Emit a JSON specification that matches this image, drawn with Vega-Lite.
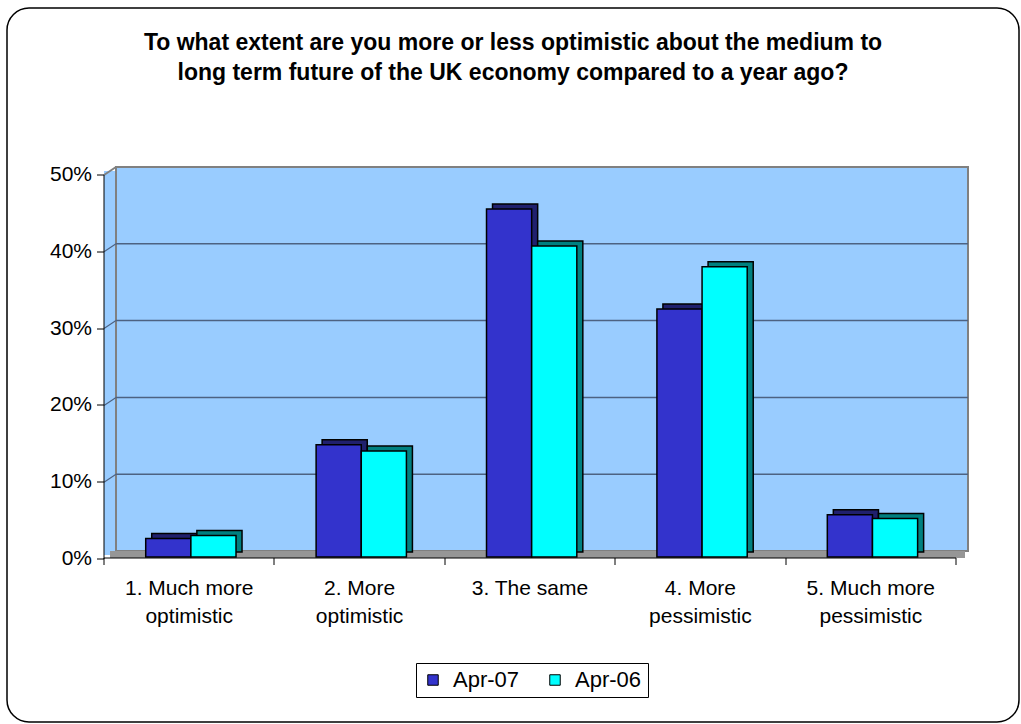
{
  "$schema": "https://vega.github.io/schema/vega-lite/v6.json",
  "autosize": {"type": "none"},
  "padding": {"left": 7, "top": 8, "right": 2, "bottom": 2},
  "width": 1012,
  "height": 714,
  "background": "white",
  "config": {
    "view": {"stroke": "black", "strokeWidth": 1.5, "cornerRadius": 22, "fill": "white"},
    "font": "Liberation Sans"
  },
  "title": {
    "text": ["To what extent are you more or less optimistic about the medium to", "long term future of the UK economy compared to a year ago?"],
    "font": "Liberation Sans",
    "fontSize": 23,
    "fontWeight": "bold",
    "lineHeight": 30,
    "anchor": "middle",
    "frame": "group",
    "baseline": "top",
    "offset": -77,
    "color": "black"
  },
  "datasets": {
    "survey": [
      {"category": "1. Much more optimistic", "series": "Apr-07", "value": 0.024},
      {"category": "1. Much more optimistic", "series": "Apr-06", "value": 0.028},
      {"category": "2. More optimistic", "series": "Apr-07", "value": 0.146},
      {"category": "2. More optimistic", "series": "Apr-06", "value": 0.138},
      {"category": "3. The same", "series": "Apr-07", "value": 0.453},
      {"category": "3. The same", "series": "Apr-06", "value": 0.405},
      {"category": "4. More pessimistic", "series": "Apr-07", "value": 0.323},
      {"category": "4. More pessimistic", "series": "Apr-06", "value": 0.378},
      {"category": "5. Much more pessimistic", "series": "Apr-07", "value": 0.055},
      {"category": "5. Much more pessimistic", "series": "Apr-06", "value": 0.05}
    ],
    "gridlines": [{"v": 0.1}, {"v": 0.2}, {"v": 0.3}, {"v": 0.4}],
    "wall": [{"part": "wall"}]
  },
  "resolve": {"scale": {"xOffset": "independent"}},
  "layer": [
    {
      "data": {"name": "wall"},
      "mark": {"type": "rect", "fill": "#99CCFF", "xOffset": -12, "x2Offset": 0, "yOffset": 4, "y2Offset": 4},
      "encoding": {
        "x": {"datum": "1. Much more optimistic", "type": "nominal", "bandPosition": 0,
          "scale": {"type": "band", "domain": ["1. Much more optimistic", "2. More optimistic", "3. The same", "4. More pessimistic", "5. Much more pessimistic"], "range": [109, 961], "paddingInner": 0, "paddingOuter": 0}},
        "x2": {"datum": "1. Much more optimistic", "bandPosition": 0},
        "y": {"datum": 0, "type": "quantitative",
          "scale": {"domain": [0, 0.5], "range": [543, 159], "nice": false, "zero": true}},
        "y2": {"datum": 0.5}
      }
    },
    {
      "data": {"name": "wall"},
      "mark": {"type": "rect", "fill": "#99CCFF", "stroke": "#808080", "strokeWidth": 2},
      "encoding": {
        "x": {"datum": "1. Much more optimistic", "type": "nominal", "bandPosition": 0},
        "x2": {"datum": "5. Much more pessimistic", "bandPosition": 1},
        "y": {"datum": 0, "type": "quantitative"},
        "y2": {"datum": 0.5}
      }
    },
    {
      "data": {"name": "wall"},
      "mark": {"type": "rect", "fill": "#969696", "xOffset": -6, "x2Offset": -3, "yOffset": 7, "y2Offset": 0},
      "encoding": {
        "x": {"datum": "1. Much more optimistic", "type": "nominal", "bandPosition": 0},
        "x2": {"datum": "5. Much more pessimistic", "bandPosition": 1},
        "y": {"datum": 0, "type": "quantitative"},
        "y2": {"datum": 0}
      }
    },
    {
      "data": {"name": "gridlines"},
      "mark": {"type": "rule", "color": "#4D6282", "strokeWidth": 1.5},
      "encoding": {
        "x": {"datum": "1. Much more optimistic", "type": "nominal", "bandPosition": 0},
        "x2": {"datum": "5. Much more pessimistic", "bandPosition": 1},
        "y": {"field": "v", "type": "quantitative"}
      }
    },
    {
      "data": {"name": "gridlines"},
      "mark": {"type": "rule", "color": "#4D6282", "strokeWidth": 1.2, "xOffset": -12, "yOffset": 8, "x2Offset": 0, "y2Offset": 0},
      "encoding": {
        "x": {"datum": "1. Much more optimistic", "type": "nominal", "bandPosition": 0},
        "x2": {"datum": "1. Much more optimistic", "bandPosition": 0},
        "y": {"field": "v", "type": "quantitative"},
        "y2": {"field": "v"}
      }
    },
    {
      "data": {"name": "wall"},
      "mark": {"type": "rule", "color": "#808080", "strokeWidth": 2, "xOffset": -12, "yOffset": 8, "x2Offset": 0, "y2Offset": 0},
      "encoding": {
        "x": {"datum": "1. Much more optimistic", "type": "nominal", "bandPosition": 0},
        "x2": {"datum": "1. Much more optimistic", "bandPosition": 0},
        "y": {"datum": 0.5, "type": "quantitative"},
        "y2": {"datum": 0.5}
      }
    },
    {
      "data": {"name": "survey"},
      "mark": {"type": "bar", "stroke": "black", "strokeWidth": 1.5, "yOffset": 1, "y2Offset": 1},
      "encoding": {
        "x": {"field": "category", "type": "nominal"},
        "xOffset": {"field": "series", "type": "nominal", "sort": ["Apr-07", "Apr-06"],
          "scale": {"paddingInner": 0, "paddingOuter": 0.887, "align": 0.446}},
        "y": {"field": "value", "type": "quantitative"},
        "fill": {"condition": {"test": "datum.series === 'Apr-07'", "value": "#20206E"}, "value": "#008080"}
      }
    },
    {
      "data": {"name": "survey"},
      "mark": {"type": "bar", "stroke": "black", "strokeWidth": 1.5, "yOffset": 6, "y2Offset": 6},
      "encoding": {
        "x": {"field": "category", "type": "nominal",
          "axis": {"title": null, "tickBand": "extent", "offset": -152, "translate": -12, "tickSize": 7,
            "labelPadding": 24, "labelFontSize": 21, "labelLineHeight": 28, "labelAngle": 0, "labelAlign": "center",
            "labelBaseline": "middle", "labelColor": "black",
            "labelFont": "Liberation Sans", "domainColor": "black", "tickColor": "black", "grid": false, "zindex": 1,
            "labelExpr": "length(datum.label) > 12 ? [slice(datum.label, 0, lastindexof(datum.label, ' ')), slice(datum.label, lastindexof(datum.label, ' ') + 1)] : datum.label"}},
        "xOffset": {"field": "series", "type": "nominal", "sort": ["Apr-07", "Apr-06"],
          "scale": {"paddingInner": 0, "paddingOuter": 0.887, "align": 0.371}},
        "y": {"field": "value", "type": "quantitative",
          "axis": {"title": null, "format": ".0%", "values": [0, 0.1, 0.2, 0.3, 0.4, 0.5], "offset": -89, "translate": 8,
            "tickSize": 7, "labelPadding": 5, "labelFontSize": 21, "labelColor": "black", "labelFont": "Liberation Sans",
            "domainColor": "black", "tickColor": "black", "grid": false, "zindex": 1}},
        "color": {"field": "series", "type": "nominal", "sort": ["Apr-07", "Apr-06"],
          "scale": {"domain": ["Apr-07", "Apr-06"], "range": ["#3333CC", "#00FFFF"]},
          "legend": {"title": null, "orient": "none", "legendX": 409, "legendY": 655, "direction": "horizontal",
            "strokeColor": "black", "fillColor": "white", "padding": 6, "symbolType": "square", "symbolSize": 110,
            "symbolStrokeColor": "black", "symbolStrokeWidth": 1, "symbolOpacity": 1, "labelFontSize": 22,
            "labelFont": "Liberation Sans", "labelColor": "black", "columnPadding": 24, "labelOffset": 9}}
      }
    }
  ]
}
